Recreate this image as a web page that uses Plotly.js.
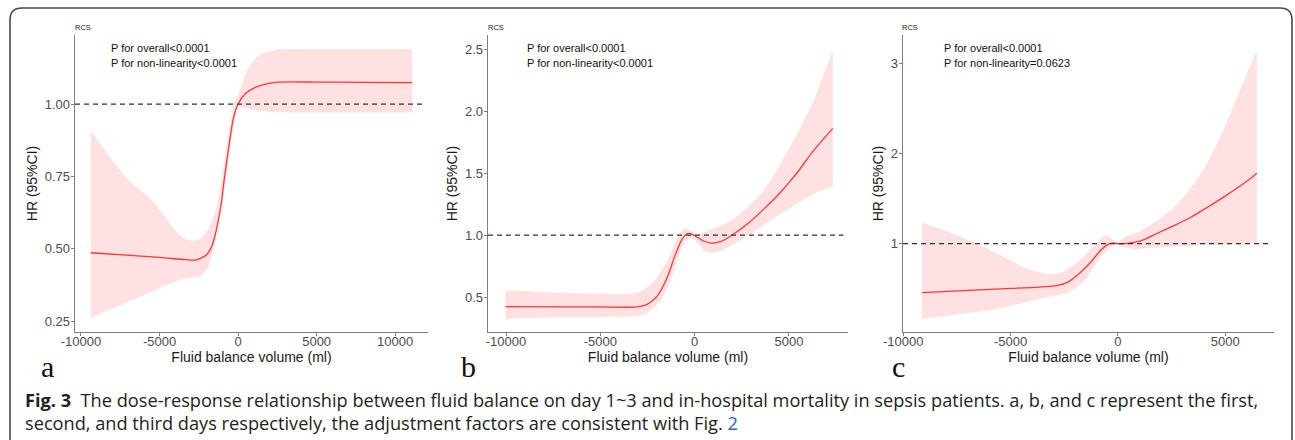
<!DOCTYPE html>
<html>
<head>
<meta charset="utf-8">
<script src="https://cdn.plot.ly/plotly-3.0.1.min.js"></script>
<style>html,body{margin:0;padding:0;background:#fff;}#chart{width:1295px;height:440px;}</style>
</head>
<body>
<div id="chart"></div>
<script>
// ---------- Panel a (day 1) ----------
const aHRx  = [-9370, -5000, -3316, -2658, -2025, -1646, -1097, -886, -570, -300, 0, 487, 1000, 1540, 2380, 5000, 8000, 11080];
const aHR   = [0.486, 0.470, 0.462, 0.461, 0.478, 0.513, 0.645, 0.737, 0.860, 0.950, 1.000, 1.037, 1.055, 1.066, 1.075, 1.076, 1.075, 1.074];
const aUpx  = [-9370, -7000, -5630, -4580, -3730, -3000, -2470, -1940, -1410, -1100, -800, -500, -200, 0, 300, 660, 1330, 2380, 5000, 8000, 11080];
const aUp   = [0.907, 0.737, 0.675, 0.605, 0.547, 0.527, 0.533, 0.564, 0.633, 0.720, 0.830, 0.930, 1.010, 1.030, 1.075, 1.125, 1.168, 1.188, 1.190, 1.190, 1.190];
const aLox  = [-9370, -6000, -3730, -3000, -2470, -1940, -1530, -1200, -900, -600, -300, 0, 500, 1500, 2500, 5000, 8000, 11080];
const aLo   = [0.261, 0.340, 0.392, 0.400, 0.403, 0.432, 0.507, 0.600, 0.700, 0.810, 0.920, 0.990, 0.985, 0.975, 0.972, 0.971, 0.971, 0.971];
const aYTicks = [0.25, 0.50, 0.75, 1.00];
const aXTicks = [-10000, -5000, 0, 5000, 10000];

// ---------- Panel b (day 2) ----------
const bHRx  = [-10020, -7000, -5000, -3050, -2520, -1990, -1460, -1020, -670, -400, -230, 0, 480, 920, 1360, 1890, 2770, 3650, 4530, 5060, 5420, 6300, 7320];
const bHR   = [0.422, 0.421, 0.420, 0.420, 0.441, 0.508, 0.656, 0.844, 0.965, 1.010, 1.012, 0.995, 0.952, 0.935, 0.946, 0.990, 1.086, 1.207, 1.341, 1.435, 1.500, 1.680, 1.860];
const bUpx  = [-10020, -7000, -4000, -3000, -2500, -1990, -1280, -850, -490, -230, 130, 800, 1890, 2770, 3650, 4500, 5420, 6300, 7320];
const bUp   = [0.554, 0.535, 0.525, 0.535, 0.580, 0.656, 0.844, 1.005, 1.054, 1.032, 1.005, 1.040, 1.113, 1.220, 1.355, 1.560, 1.810, 2.080, 2.490];
const bLox  = [-10020, -7000, -3050, -2520, -1810, -1280, -850, -490, -120, 130, 570, 920, 1530, 2770, 4530, 6300, 7320];
const bLo   = [0.325, 0.339, 0.347, 0.373, 0.468, 0.629, 0.830, 0.960, 0.980, 0.940, 0.870, 0.857, 0.884, 0.990, 1.167, 1.330, 1.395];
const bYTicks = [0.5, 1.0, 1.5, 2.0, 2.5];
const bXTicks = [-10000, -5000, 0, 5000];

// ---------- Panel c (day 3) ----------
const cHRx  = [-9120, -5730, -2950, -2330, -1710, -1250, -790, -480, -250, 0, 290, 1065, 1840, 2610, 3380, 4150, 4920, 6000, 6470];
const cHR   = [0.459, 0.497, 0.533, 0.575, 0.690, 0.800, 0.930, 0.990, 1.005, 1.000, 1.000, 1.030, 1.115, 1.200, 1.290, 1.400, 1.515, 1.690, 1.780];
const cUpx  = [-9120, -7270, -5730, -4180, -3260, -2640, -1870, -1100, -710, -480, -170, 0, 290, 1065, 1840, 2610, 3380, 4150, 4920, 5690, 6470];
const cUp   = [1.237, 1.070, 0.903, 0.719, 0.663, 0.681, 0.793, 0.978, 1.070, 1.089, 1.033, 1.015, 1.070, 1.144, 1.256, 1.400, 1.610, 1.886, 2.260, 2.700, 3.140];
const cLox  = [-9120, -5730, -3410, -2330, -1560, -1250, -790, -170, 290, 750, 1840, 3380, 5080, 6470];
const cLo   = [0.170, 0.274, 0.404, 0.459, 0.589, 0.700, 0.850, 0.990, 0.960, 0.940, 0.960, 0.978, 0.997, 1.005];
const cYTicks = [1, 2, 3];
const cXTicks = [-10000, -5000, 0, 5000];

// ---------- Text ----------
const pOverall = ['P for overall<0.0001', 'P for overall<0.0001', 'P for overall<0.0001'];
const pNonLin  = ['P for non-linearity<0.0001', 'P for non-linearity<0.0001', 'P for non-linearity=0.0623'];
const panelLetters = ['a', 'b', 'c'];
const xTitle = 'Fluid balance volume (ml)';
const yTitle = 'HR (95%CI)';
const caption1 = '<b>Fig. 3</b>  The dose-response relationship between fluid balance on day 1~3 and in-hospital mortality in sepsis patients. a, b, and c represent the first,';
const caption2 = 'second, and third days respectively, the adjustment factors are consistent with Fig. <span style="color:#2f5fd0">2</span>';

// ---------- Layout helpers ----------
const W = 1295, H = 440;
const px = v => v / W;
const py = v => 1 - v / H;

const bandColor = 'rgb(255,225,225)';
const lineColor = 'rgb(255,55,55)';
const axisColor = '#7f7f7f';
const tickFont = {family: 'Liberation Sans, Arial, sans-serif', size: 13, color: '#4d4d4d'};
const titleFont = {family: 'Liberation Sans, Arial, sans-serif', size: 14, color: '#1a1a1a'};

const panels = [
  {hx: aHRx, hy: aHR, ux: aUpx, uy: aUp, lx: aLox, ly: aLo, yt: aYTicks, xt: aXTicks, fmt: '.2f',
   xdom: [75, 428], xr: [-10380, 12090], yr: [0.212, 1.2386], rcs: 83, ptx: 109, letter: 47},
  {hx: bHRx, hy: bHR, ux: bUpx, uy: bUp, lx: bLox, ly: bLo, yt: bYTicks, xt: bXTicks, fmt: '.1f',
   xdom: [488, 848], xr: [-10954, 8128], yr: [0.218, 2.613], rcs: 496, ptx: 525, letter: 468},
  {hx: cHRx, hy: cHR, ux: cUpx, uy: cUp, lx: cLox, ly: cLo, yt: cYTicks, xt: cXTicks, fmt: 'd',
   xdom: [903, 1274], xr: [-10010, 7269], yr: [0.022, 3.31], rcs: 910, ptx: 942, letter: 898}
];

const data = [];
const layout = {
  width: W, height: H,
  margin: {l: 0, r: 0, t: 0, b: 0},
  paper_bgcolor: '#ffffff', plot_bgcolor: '#ffffff',
  showlegend: false,
  shapes: [], annotations: []
};

panels.forEach((p, i) => {
  const sfx = i === 0 ? '' : String(i + 1);
  const xa = 'x' + sfx, ya = 'y' + sfx;
  // CI band: upper bound, then lower bound filled to it
  data.push({
    type: 'scatter', mode: 'lines', x: p.ux, y: p.uy, xaxis: xa, yaxis: ya,
    line: {width: 0, color: bandColor, shape: 'spline', smoothing: 0.6}, hoverinfo: 'skip'
  });
  data.push({
    type: 'scatter', mode: 'lines', x: p.lx, y: p.ly, xaxis: xa, yaxis: ya,
    fill: 'tonexty', fillcolor: bandColor,
    line: {width: 0, color: bandColor, shape: 'spline', smoothing: 0.6}, hoverinfo: 'skip'
  });
  data.push({
    type: 'scatter', mode: 'lines', x: p.hx, y: p.hy, xaxis: xa, yaxis: ya,
    line: {color: lineColor, width: 1.3, shape: 'spline', smoothing: 0.7},
    hoverinfo: 'skip'
  });
  layout['xaxis' + sfx] = {
    domain: [px(p.xdom[0]), px(p.xdom[1])], range: p.xr, anchor: ya,
    tickmode: 'array', tickvals: p.xt, ticktext: p.xt.map(v => String(v)),
    showgrid: false, zeroline: false,
    showline: true, linecolor: axisColor, linewidth: 1.3,
    ticks: 'outside', ticklen: 3, tickcolor: axisColor, tickwidth: 1,
    ticklabelstandoff: -6,
    tickfont: tickFont,
    title: {text: xTitle, font: titleFont, standoff: 3}
  };
  layout['yaxis' + sfx] = {
    domain: [py(332), py(35)], range: p.yr, anchor: xa,
    tickmode: 'array', tickvals: p.yt, tickformat: p.fmt, showgrid: false, zeroline: false,
    showline: true, linecolor: axisColor, linewidth: 1.3,
    ticks: 'outside', ticklen: 3, tickcolor: axisColor, tickwidth: 1,
    ticklabelstandoff: -2,
    tickfont: tickFont,
    title: {text: yTitle, font: titleFont, standoff: 4}
  };
  layout.shapes.push({
    type: 'line', xref: xa + ' domain', yref: ya, x0: 0, x1: 0.987, y0: 1, y1: 1,
    line: {color: '#333333', width: 1.3, dash: '5px,4px'}
  });
  layout.annotations.push(
    {xref: 'paper', yref: 'paper', x: px(p.rcs), y: py(28), text: 'RCS', showarrow: false,
     xanchor: 'center', yanchor: 'middle', font: {family: 'Liberation Sans, Arial, sans-serif', size: 7.5, color: '#222'}},
    {xref: 'paper', yref: 'paper', x: px(p.ptx), y: py(48), text: pOverall[i], showarrow: false,
     xanchor: 'left', yanchor: 'middle', font: {family: 'Liberation Sans, Arial, sans-serif', size: 11, color: '#111'}},
    {xref: 'paper', yref: 'paper', x: px(p.ptx), y: py(63.5), text: pNonLin[i], showarrow: false,
     xanchor: 'left', yanchor: 'middle', font: {family: 'Liberation Sans, Arial, sans-serif', size: 11, color: '#111'}},
    {xref: 'paper', yref: 'paper', x: px(p.letter), y: py(366), text: panelLetters[i], showarrow: false,
     xanchor: 'center', yanchor: 'middle', font: {family: 'Liberation Serif, Times New Roman, serif', size: 30, color: '#111'}}
  );
});

// caption
layout.annotations.push(
  {xref: 'paper', yref: 'paper', x: px(23), y: py(400), text: caption1, showarrow: false,
   xanchor: 'left', yanchor: 'middle', align: 'left', font: {family: 'Open Sans, sans-serif', size: 18.2, color: '#231f20'}},
  {xref: 'paper', yref: 'paper', x: px(23), y: py(423), text: caption2, showarrow: false,
   xanchor: 'left', yanchor: 'middle', align: 'left', font: {family: 'Open Sans, sans-serif', size: 18.2, color: '#231f20'}}
);

// rounded frame
const fx = v => px(v).toFixed(5), fy = v => py(v).toFixed(5);
layout.shapes.push({
  type: 'path', xref: 'paper', yref: 'paper',
  path: `M ${fx(10)},${fy(446)} L ${fx(10)},${fy(20)} Q ${fx(10)},${fy(8)} ${fx(22)},${fy(8)} L ${fx(1280)},${fy(8)} Q ${fx(1292)},${fy(8)} ${fx(1292)},${fy(20)} L ${fx(1292)},${fy(446)}`,
  line: {color: '#4a4a4a', width: 1.6}
});

Plotly.newPlot('chart', data, layout, {staticPlot: true, displayModeBar: false});
</script>
</body>
</html>
